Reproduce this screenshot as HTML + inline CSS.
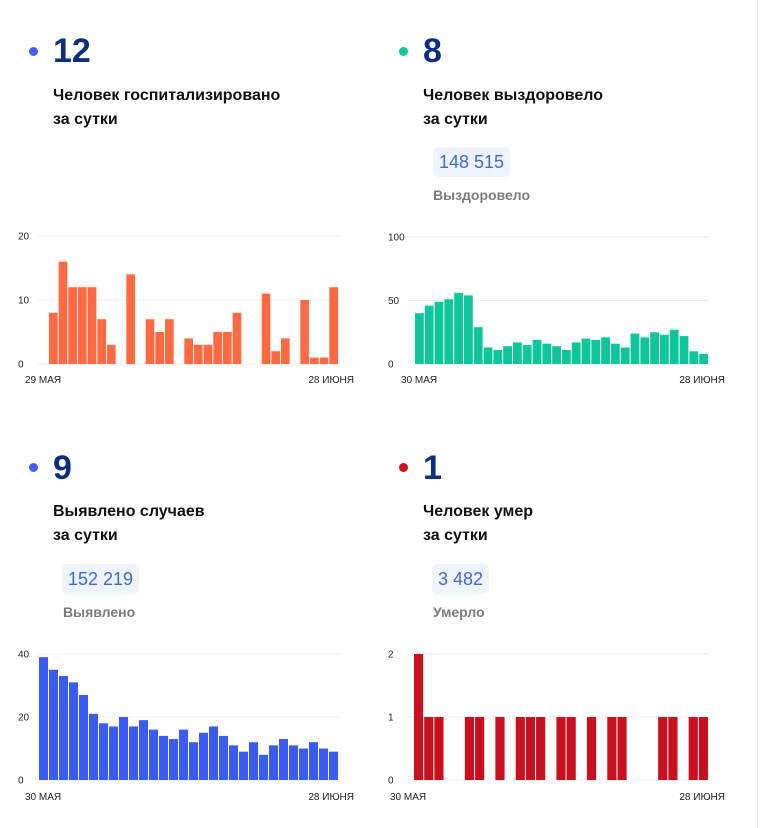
<!DOCTYPE html>
<html><head><meta charset="utf-8">
<style>
body{margin:0;width:760px;height:828px;background:#fff;position:relative;overflow:hidden;font-family:"Liberation Sans","DejaVu Sans",sans-serif;}
.a{position:absolute;white-space:nowrap}
.dot{position:absolute;width:9px;height:9px;border-radius:50%}
.num{font-size:34px;font-weight:bold;color:#0d2f80;line-height:34px}
.sub{font-size:16px;font-weight:bold;color:#111;line-height:24px}
.badge{background:#eef4fd;color:#4466d4;font-size:18px;padding:0 6px;height:30px;line-height:30px;border-radius:5px}
.lbl{font-size:14px;font-weight:bold;color:#7b7b7b}
svg{position:absolute;left:0;top:0}
</style></head><body>
<div class="a" style="left:757px;top:0;width:1px;height:828px;background:#e6e6e6"></div>

<div class="dot" style="left:29px;top:47px;background:#3d63f0"></div>
<div class="a num" style="left:53px;top:34px">12</div>
<div class="a sub" style="left:53px;top:84px">Человек госпитализировано<br>за сутки</div>

<div class="dot" style="left:399px;top:47px;background:#0fc59b"></div>
<div class="a num" style="left:423px;top:34px">8</div>
<div class="a sub" style="left:423px;top:84px">Человек выздоровело<br>за сутки</div>
<div class="a badge" style="left:433px;top:147px">148 515</div>
<div class="a lbl" style="left:433px;top:187px">Выздоровело</div>

<div class="dot" style="left:29px;top:463px;background:#3d63f0"></div>
<div class="a num" style="left:53px;top:451px">9</div>
<div class="a sub" style="left:53px;top:500px">Выявлено случаев<br>за сутки</div>
<div class="a badge" style="left:62px;top:564px">152 219</div>
<div class="a lbl" style="left:63px;top:604px">Выявлено</div>

<div class="dot" style="left:399px;top:463px;background:#c8101e"></div>
<div class="a num" style="left:423px;top:451px">1</div>
<div class="a sub" style="left:423px;top:500px">Человек умер<br>за сутки</div>
<div class="a badge" style="left:432px;top:564px">3 482</div>
<div class="a lbl" style="left:433px;top:604px">Умерло</div>

<svg id="s" width="760" height="828"></svg>
<script>
const hospValues=[8,16,12,12,12,7,3,0,14,0,7,5,7,0,4,3,3,5,5,8,0,0,11,2,4,0,10,1,1,12];
const hospTicks=[0,10,20];
const recValues=[40,46,49,51,56,54,29,13,11,14,17,15,19,16,14,11,17,20,19,21,16,13,24,21,25,23,27,22,10,8];
const recTicks=[0,50,100];
const caseValues=[39,35,33,31,27,21,18,17,20,17,19,16,14,13,16,12,15,17,14,11,9,12,8,11,13,11,10,12,10,9];
const caseTicks=[0,20,40];
const deathValues=[2,1,1,0,0,1,1,0,1,0,1,1,1,0,1,1,0,1,0,1,1,0,0,0,1,1,0,1,1];
const deathTicks=[0,1,2];
const hospDates=["29 МАЯ","28 ИЮНЯ"];
const recDates=["30 МАЯ","28 ИЮНЯ"];
const caseDates=["30 МАЯ","28 ИЮНЯ"];
const deathDates=["30 МАЯ","28 ИЮНЯ"];
const NS="http://www.w3.org/2000/svg";
const svg=document.getElementById('s');
function mk(t,at){const e=document.createElementNS(NS,t);for(const k in at)e.setAttribute(k,at[k]);svg.appendChild(e);return e;}
function chart(name,vals,ticks,dates,color,gx0,bx0,bx1,yTop,yBot,tx,lx,lxr,ly){
  const max=ticks[ticks.length-1];
  const y=v=>yBot-(v/max)*(yBot-yTop);
  ticks.forEach(t=>{
    const l=mk('line',{x1:gx0,x2:bx1,y1:y(t),y2:y(t),stroke:'#ececec','stroke-width':1});
    
    
    const tt=mk('text',{x:tx,y:y(t)+3.5,'font-size':10,fill:'#222','font-family':'Liberation Sans, sans-serif'});
    tt.textContent=t;
    
    
  });
  const w=(bx1-bx0)/vals.length;
  vals.forEach((v,i)=>{
    if(v<=0)return;
    const r=mk('rect',{x:bx0+i*w,y:y(v),width:w-1,height:yBot-y(v),fill:color});
    
    
  });
  const d1=mk('text',{x:lx,y:ly,'font-size':10,fill:'#222','font-family':'Liberation Sans, sans-serif'});
  d1.textContent=dates[0];
  
  
  const d2=mk('text',{x:lxr,y:ly,'font-size':10,fill:'#222','text-anchor':'end','font-family':'Liberation Sans, sans-serif'});
  d2.textContent=dates[1];
  
  
}
chart('hosp-chart',hospValues,hospTicks,hospDates,'#ff6a42',38,49,339,236,364,18,25,354,383);
chart('rec-chart',recValues,recTicks,recDates,'#0fc59b',408,415,709,237,364,388,401,725,383);
chart('case-chart',caseValues,caseTicks,caseDates,'#3a5cf5',38,39,339,654,780,18,25,354,800);
chart('death-chart',deathValues,deathTicks,deathDates,'#c8101e',408,414,709,654,780,388,390,725,800);
</script>
</body></html>
